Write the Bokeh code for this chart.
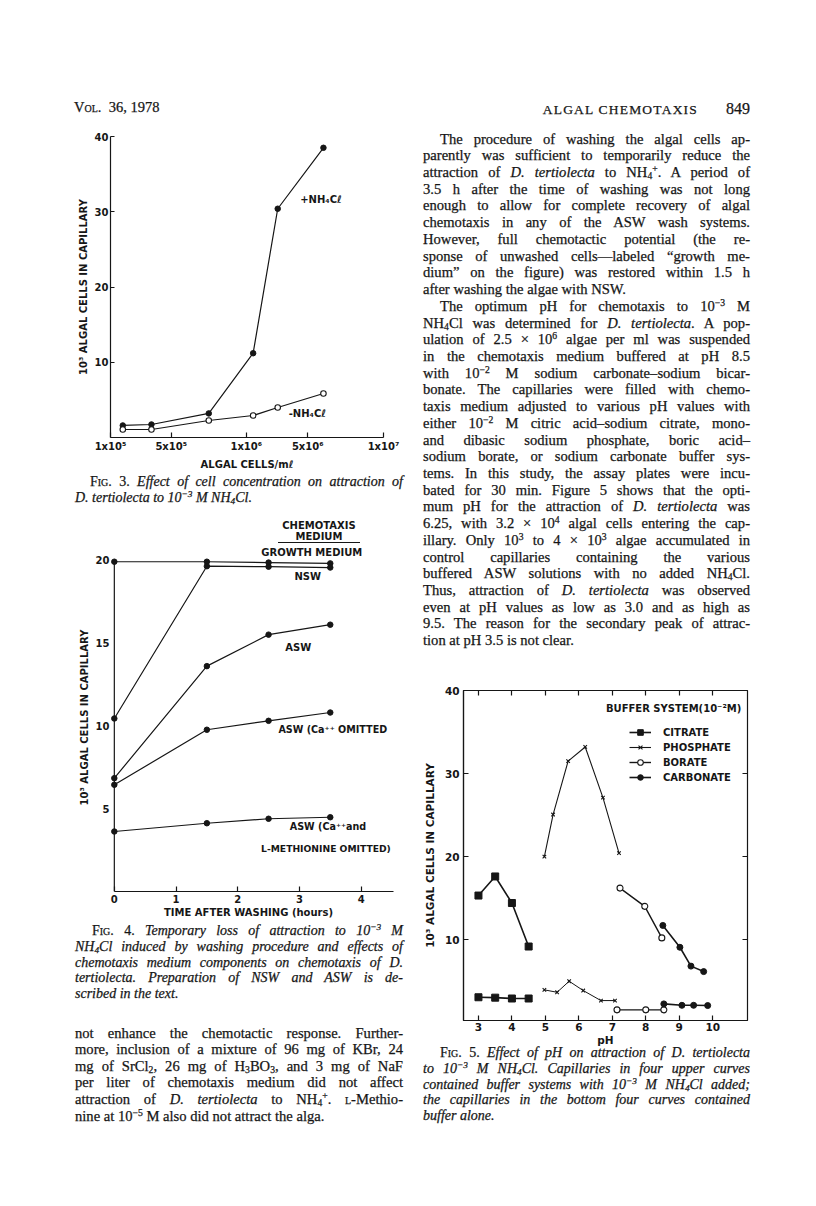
from bokeh.plotting import figure
from bokeh.models import Div, Spacer, LinearAxis, FixedTicker, Label, Legend, LegendItem, Range1d
from bokeh.layouts import column, row
from bokeh.embed import file_html
from bokeh.resources import INLINE
from bokeh.core.properties import value

# ---------------- data read from the page ----------------
# Fig. 3 : algal cells in capillary vs algal cell concentration
CELL_TICK_LABELS = ["1x10⁵", "5x10⁵", "1x10⁶", "5x10⁶", "1x10⁷"]
CELL_TICK_POS = [0.0, 0.89, 1.99, 2.89, 4.0]
CELL_POS = [0.18, 0.60, 1.44, 2.09, 2.45, 3.12]
WITH_NH4CL = [1.6, 1.73, 3.2, 11.2, 30.4, 38.5]
WITHOUT_NH4CL = [1.06, 1.06, 2.26, 2.92, 3.99, 5.85]

# Fig. 4 : time after washing (hours)
HOURS = [0.0, 1.5, 2.5, 3.5]
GROWTH_MEDIUM = [19.9, 19.9, 19.85, 19.8]
NSW = [10.44, 19.63, 19.6, 19.55]
ASW = [6.84, 13.6, 15.5, 16.1]
ASW_NO_CA = [6.44, 9.76, 10.3, 10.8]
ASW_NO_CA_MET = [3.62, 4.12, 4.39, 4.48]
HOUR_TICKS = [0, 1, 2, 3, 4]
FIG4_Y_TICKS = [5, 10, 15, 20]

# Fig. 5 : pH
PH_TICKS = [3, 4, 5, 6, 7, 8, 9, 10]
FIG5_Y_TICKS = [10, 20, 30, 40]
CIT_PH = [3.0, 3.5, 4.0, 4.5]
CIT_NH4 = [15.3, 17.6, 14.4, 9.16]
CIT_BUF = [3.05, 3.0, 2.9, 2.9]
PHOS_PH = [4.97, 5.23, 5.68, 6.19, 6.72, 7.2]
PHOS_NH4 = [20.0, 25.06, 31.5, 33.2, 27.1, 20.4]
PHOS_BUF_PH = [4.97, 5.35, 5.71, 6.13, 6.66, 7.08]
PHOS_BUF = [3.94, 3.65, 4.98, 3.86, 2.65, 2.65]
BOR_PH = [7.23, 7.97, 8.48]
BOR_NH4 = [16.2, 14.0, 10.2]
BOR_BUF_PH = [7.14, 8.0, 8.54]
BOR_BUF = [1.53, 1.53, 1.53]
CARB_PH = [8.51, 9.02, 9.35, 9.73]
CARB_NH4 = [11.7, 9.07, 6.8, 6.14]
CARB_BUF_PH = [8.54, 9.08, 9.43, 9.85]
CARB_BUF = [2.25, 2.08, 2.08, 2.05]

# ---------------- styles ----------------
INK = "#161616"
SANS = "DejaVu Sans"
SERIF = "'Liberation Serif', 'Times New Roman', serif"


def style_axis(ax, size="10px"):
    ax.axis_line_color = INK
    ax.axis_line_width = 1.2
    ax.major_tick_line_color = INK
    ax.major_tick_line_width = 1.2
    ax.minor_tick_line_color = None
    ax.major_label_text_font = SANS
    ax.major_label_text_font_style = "bold"
    ax.major_label_text_font_size = size
    ax.major_label_text_color = INK
    ax.axis_label_text_font = SANS
    ax.axis_label_text_font_style = "bold"
    ax.axis_label_text_font_size = size
    ax.axis_label_text_color = INK


def base_fig(**kw):
    p = figure(output_backend="svg", toolbar_location=None, **kw)
    p.xgrid.grid_line_color = None
    p.ygrid.grid_line_color = None
    p.background_fill_color = "white"
    p.border_fill_color = "white"
    return p


def add_text(p, x, y, t, align="left", size="10px"):
    p.text(x=[x], y=[y], text=[t], text_font=value(SANS), text_font_style="bold",
           text_font_size=size, text_color=INK, text_align=align, text_baseline="middle")


# ---------------- Fig. 3 ----------------
p3 = base_fig(width=330, height=357, x_range=Range1d(0, 4), y_range=Range1d(0, 40),
              min_border_left=40, min_border_right=17, min_border_top=21, min_border_bottom=35)
p3.outline_line_color = None
style_axis(p3.xaxis[0])
style_axis(p3.yaxis[0])
p3.xaxis.ticker = FixedTicker(ticks=CELL_TICK_POS)
p3.xaxis.major_label_overrides = {float(t): lab for t, lab in zip(CELL_TICK_POS, CELL_TICK_LABELS)}
p3.xaxis.major_tick_in = 5
p3.xaxis.major_tick_out = 0
p3.xaxis.major_label_standoff = 3
p3.xaxis.axis_label = "ALGAL CELLS/mℓ"
p3.xaxis.axis_label_standoff = 4
p3.yaxis.ticker = FixedTicker(ticks=[10, 20, 30, 40])
p3.yaxis.major_tick_in = 4
p3.yaxis.major_tick_out = 0
p3.yaxis.major_label_standoff = 2
p3.yaxis.axis_label = "10³ ALGAL CELLS IN CAPILLARY"
p3.yaxis.axis_label_standoff = 3
p3.line(CELL_POS, WITH_NH4CL, line_color=INK, line_width=1.2)
p3.scatter(CELL_POS, WITH_NH4CL, marker="circle", size=5.5, fill_color=INK, line_color=INK)
p3.line(CELL_POS, WITHOUT_NH4CL, line_color=INK, line_width=1.2)
p3.scatter(CELL_POS, WITHOUT_NH4CL, marker="circle", size=5.5, fill_color="white", line_color=INK, line_width=1.1)
add_text(p3, 2.78, 31.6, "+NH₄Cℓ")
add_text(p3, 2.61, 3.19, "-NH₄Cℓ")

# ---------------- Fig. 4 ----------------
p4 = base_fig(width=340, height=379, x_range=Range1d(-0.062, 4.525), y_range=Range1d(0, 21),
              min_border_left=38, min_border_right=5, min_border_top=0, min_border_bottom=31)
p4.outline_line_color = None
style_axis(p4.xaxis[0])
style_axis(p4.yaxis[0])
p4.xaxis.ticker = FixedTicker(ticks=HOUR_TICKS)
p4.xaxis.bounds = (0, 4.525)
p4.xaxis.major_tick_in = 5
p4.xaxis.major_tick_out = 0
p4.xaxis.major_label_standoff = 3
p4.xaxis.axis_label = "TIME  AFTER  WASHING (hours)"
p4.xaxis.axis_label_standoff = 1
p4.yaxis.ticker = FixedTicker(ticks=FIG4_Y_TICKS)
p4.yaxis.axis_line_color = None
p4.yaxis.major_tick_in = 0
p4.yaxis.major_tick_out = 0
p4.yaxis.major_label_standoff = 1
p4.yaxis.axis_label = "10³ ALGAL CELLS IN CAPILLARY"
p4.yaxis.axis_label_standoff = 3
# vertical axis line drawn through hour 0, from 0 up to the top tick
p4.segment(x0=[HOUR_TICKS[0]], y0=[0], x1=[HOUR_TICKS[0]], y1=[FIG4_Y_TICKS[-1]],
           line_color=INK, line_width=1.2)
for series in (GROWTH_MEDIUM, NSW, ASW, ASW_NO_CA, ASW_NO_CA_MET):
    p4.line(HOURS, series, line_color=INK, line_width=1.2)
    p4.scatter(HOURS, series, marker="circle", size=5.5, fill_color=INK, line_color=INK)
add_text(p4, 3.2, 20.46, "GROWTH MEDIUM", "center")
add_text(p4, 3.135, 19.0, "NSW", "center")
add_text(p4, 2.98, 14.73, "ASW", "center")
add_text(p4, 2.66, 9.78, "ASW (Ca⁺⁺ OMITTED", "left", "9.6px")
add_text(p4, 3.49, 3.92, "ASW  (Ca⁺⁺and", "center", "9.6px")
add_text(p4, 3.43, 2.6, "L-METHIONINE OMITTED)", "center", "9.2px")

# ---------------- Fig. 5 ----------------
p5 = base_fig(width=332, height=388, x_range=Range1d(2.553, 11.04), y_range=Range1d(0.25, 40),
              min_border_left=42, min_border_right=5, min_border_top=30, min_border_bottom=28)
p5.outline_line_color = INK
p5.outline_line_width = 1.2
style_axis(p5.xaxis[0], "10.5px")
style_axis(p5.yaxis[0], "10.5px")
p5.xaxis.ticker = FixedTicker(ticks=PH_TICKS)
p5.xaxis.major_tick_in = 5
p5.xaxis.major_tick_out = 0
p5.xaxis.major_label_standoff = 2
p5.xaxis.axis_label = "pH"
p5.xaxis.axis_label_standoff = 0
p5.yaxis.ticker = FixedTicker(ticks=FIG5_Y_TICKS)
p5.yaxis.major_tick_in = 5
p5.yaxis.major_tick_out = 0
p5.yaxis.major_label_standoff = 4
p5.yaxis.axis_label = "10³ ALGAL CELLS IN CAPILLARY"
p5.yaxis.axis_label_standoff = 6
for loc, ticks in (("above", PH_TICKS), ("right", FIG5_Y_TICKS)):
    ax = LinearAxis(ticker=FixedTicker(ticks=ticks))
    style_axis(ax)
    ax.axis_line_color = None
    ax.major_tick_in = 5
    ax.major_tick_out = 0
    ax.major_label_text_font_size = "1px"
    ax.major_label_text_alpha = 0
    ax.major_label_standoff = 0
    p5.add_layout(ax, loc)

r_cit_l = p5.line(CIT_PH, CIT_NH4, line_color=INK, line_width=1.6)
r_cit_m = p5.scatter(CIT_PH, CIT_NH4, marker="square", size=7, fill_color=INK, line_color=INK)
p5.line(CIT_PH, CIT_BUF, line_color=INK, line_width=1.6)
p5.scatter(CIT_PH, CIT_BUF, marker="square", size=7, fill_color=INK, line_color=INK)

r_pho_l = p5.line(PHOS_PH, PHOS_NH4, line_color=INK, line_width=1.1)
r_pho_m = p5.scatter(PHOS_PH, PHOS_NH4, marker="x", size=5, line_color=INK, line_width=1.1)
p5.line(PHOS_BUF_PH, PHOS_BUF, line_color=INK, line_width=1.0)
p5.scatter(PHOS_BUF_PH, PHOS_BUF, marker="x", size=5, line_color=INK, line_width=1.1)

r_bor_l = p5.line(BOR_PH, BOR_NH4, line_color=INK, line_width=1.4)
r_bor_m = p5.scatter(BOR_PH, BOR_NH4, marker="circle", size=6, fill_color="white", line_color=INK, line_width=1.1)
p5.line(BOR_BUF_PH, BOR_BUF, line_color=INK, line_width=1.2)
p5.scatter(BOR_BUF_PH, BOR_BUF, marker="circle", size=6, fill_color="white", line_color=INK, line_width=1.1)

r_car_l = p5.line(CARB_PH, CARB_NH4, line_color=INK, line_width=1.6)
r_car_m = p5.scatter(CARB_PH, CARB_NH4, marker="circle", size=6, fill_color=INK, line_color=INK)
p5.line(CARB_BUF_PH, CARB_BUF, line_color=INK, line_width=1.6)
p5.scatter(CARB_BUF_PH, CARB_BUF, marker="circle", size=6, fill_color=INK, line_color=INK)

legend = Legend(items=[
    LegendItem(label="CITRATE", renderers=[r_cit_l, r_cit_m]),
    LegendItem(label="PHOSPHATE", renderers=[r_pho_l, r_pho_m]),
    LegendItem(label="BORATE", renderers=[r_bor_l, r_bor_m]),
    LegendItem(label="CARBONATE", renderers=[r_car_l, r_car_m]),
], location=(166, 236))
legend.border_line_color = None
legend.background_fill_alpha = 0
legend.padding = 0
legend.margin = 0
legend.spacing = 1
legend.glyph_height = 14
legend.glyph_width = 22
legend.label_height = 14
legend.label_standoff = 12
legend.label_text_font = SANS
legend.label_text_font_style = "bold"
legend.label_text_font_size = "10px"
legend.label_text_color = INK
p5.add_layout(legend)
p5.add_layout(Label(x=6.81, y=37.8, text="BUFFER SYSTEM(10⁻²M)", text_font=SANS,
                    text_font_style="bold", text_font_size="10px", text_color=INK,
                    text_baseline="middle"))


# ---------------- text blocks ----------------
def sup(t):
    return f'<span style="font-size:0.66em;vertical-align:0.55em;line-height:0">{t}</span>'


def sub(t):
    return f'<span style="font-size:0.66em;vertical-align:-0.2em;line-height:0">{t}</span>'


def it(t):
    return f'<i>{t}</i>'


def sc(t):
    return f'<span style="font-variant:small-caps;font-style:normal">{t}</span>'


DT = it("D. tertiolecta")
STROKE = "-webkit-text-stroke:0.25px " + INK + ";"


def lines_html(paragraphs, lh, size, italic=False, indent=17, width=327):
    rows = []
    for lines, indent_first, ends in paragraphs:
        for i, ln in enumerate(lines):
            last = ends and i == len(lines) - 1
            al = "left" if last else "justify"
            ind = indent if (indent_first and i == 0) else 0
            rows.append(f'<div style="height:{lh}px;line-height:{lh}px;white-space:nowrap;'
                        f'text-align:{al};text-align-last:{al};padding-left:{ind}px;">{ln}</div>')
    st = f"width:{width}px;font-family:{SERIF};font-size:{size}px;color:{INK};{STROKE}"
    if italic:
        st += "font-style:italic;"
    return f'<div style="{st}">' + "".join(rows) + "</div>"


def box(inner, w, h, left, top):
    return Div(text=f'<div style="position:relative;width:{w}px;height:{h}px;">'
                    f'<div style="position:absolute;left:{left}px;top:{top}px;">{inner}</div></div>',
               width=w, height=h, margin=0)


right_par = [
    ([
        "The procedure of washing the algal cells ap-",
        "parently was sufficient to temporarily reduce the",
        f"attraction of {DT} to NH{sub('4')}{sup('+')}. A period of",
        "3.5 h after the time of washing was not long",
        "enough to allow for complete recovery of algal",
        "chemotaxis in any of the ASW wash systems.",
        "However, full chemotactic potential (the re-",
        "sponse of unwashed cells—labeled “growth me-",
        "dium” on the figure) was restored within 1.5 h",
        "after washing the algae with NSW.",
    ], True, True),
    ([
        f"The optimum pH for chemotaxis to 10{sup('−3')} M",
        f"NH{sub('4')}Cl was determined for {DT}. A pop-",
        f"ulation of 2.5 × 10{sup('6')} algae per ml was suspended",
        "in the chemotaxis medium buffered at pH 8.5",
        f"with 10{sup('−2')} M sodium carbonate–sodium bicar-",
        "bonate. The capillaries were filled with chemo-",
        "taxis medium adjusted to various pH values with",
        f"either 10{sup('−2')} M citric acid–sodium citrate, mono-",
        "and dibasic sodium phosphate, boric acid–",
        "sodium borate, or sodium carbonate buffer sys-",
        "tems. In this study, the assay plates were incu-",
        "bated for 30 min. Figure 5 shows that the opti-",
        f"mum pH for the attraction of {DT} was",
        f"6.25, with 3.2 × 10{sup('4')} algal cells entering the cap-",
        f"illary. Only 10{sup('3')} to 4 × 10{sup('3')} algae accumulated in",
        "control capillaries containing the various",
        f"buffered ASW solutions with no added NH{sub('4')}Cl.",
        f"Thus, attraction of {DT} was observed",
        "even at pH values as low as 3.0 and as high as",
        "9.5. The reason for the secondary peak of attrac-",
        "tion at pH 3.5 is not clear.",
    ], True, True),
]

left_par = [([
    "not enhance the chemotactic response. Further-",
    "more, inclusion of a mixture of 96 mg of KBr, 24",
    f"mg of SrCl{sub('2')}, 26 mg of H{sub('3')}BO{sub('3')}, and 3 mg of NaF",
    "per liter of chemotaxis medium did not affect",
    f"attraction of {DT} to NH{sub('4')}{sup('+')}. {sc('l')}-Methio-",
    f"nine at 10{sup('−5')} M also did not attract the alga.",
], False, True)]

cap3 = [([
    f"{sc('Fig. 3.')} Effect of cell concentration on attraction of",
    f"D. tertiolecta to 10{sup('−3')} M NH{sub('4')}Cl.",
], True, True)]

cap4 = [([
    f"{sc('Fig. 4.')} Temporary loss of attraction to 10{sup('−3')} M",
    f"NH{sub('4')}Cl induced by washing procedure and effects of",
    "chemotaxis medium components on chemotaxis of D.",
    "tertiolecta. Preparation of NSW and ASW is de-",
    "scribed in the text.",
], True, True)]

cap5 = [([
    f"{sc('Fig. 5.')} Effect of pH on attraction of D. tertiolecta",
    f"to 10{sup('−3')} M NH{sub('4')}Cl. Capillaries in four upper curves",
    f"contained buffer systems with 10{sup('−3')} M NH{sub('4')}Cl added;",
    "the capillaries in the bottom four curves contained",
    "buffer alone.",
], True, True)]

hdr_left = (f'<div style="font-family:{SERIF};font-size:14.5px;line-height:16px;color:{INK};white-space:nowrap;{STROKE}">'
            f'<span style="font-variant:small-caps">Vol.</span>&nbsp; 36, 1978</div>')
hdr_right = (f'<div style="width:327px;text-align:right;font-family:{SERIF};line-height:16px;color:{INK};white-space:nowrap;{STROKE}">'
             f'<span style="font-size:13.5px;letter-spacing:1.2px">ALGAL CHEMOTAXIS</span>'
             f'<span style="font-size:16px;margin-left:28px">849</span></div>')
hdr4 = (f'<div style="width:82px;text-align:center;font-family:{SANS};font-weight:bold;font-size:10px;'
        f'line-height:11px;color:{INK};border-bottom:1.2px solid {INK};white-space:nowrap">CHEMOTAXIS<br>MEDIUM</div>')

BODY = 14.6
CAP = 14.0

left_col = column(
    Spacer(width=340, height=99, margin=0),
    box(hdr_left, 340, 16, 4, 0),
    p3,
    box(lines_html(cap3, 15.5, CAP, italic=True, indent=15, width=328), 340, 33, 5, 2),
    box(hdr4, 340, 38, 208, 14.5),
    p4,
    box(lines_html(cap4, 15.8, CAP, italic=True, indent=17, width=328), 340, 80, 5, 1),
    box(lines_html(left_par, 16.6, BODY, width=328), 340, 126, 5, 22.7),
    spacing=0,
)

right_top = Div(text=(
    '<div style="position:relative;width:335px;height:660px;">'
    f'<div style="position:absolute;left:3px;top:101px;">{hdr_right}</div>'
    f'<div style="position:absolute;left:3px;top:130.6px;">{lines_html(right_par, 16.73, BODY, width=327)}</div>'
    '</div>'), width=335, height=660, margin=0)

right_col = column(
    right_top,
    p5,
    box(lines_html(cap5, 15.8, CAP, italic=True, indent=17, width=327), 335, 85, 3, -3),
    spacing=0,
)

layout = row(Spacer(width=70, height=10, margin=0), left_col,
             Spacer(width=10, height=10, margin=0), right_col, spacing=0)

open("out.html", "w").write(file_html(layout, INLINE))
